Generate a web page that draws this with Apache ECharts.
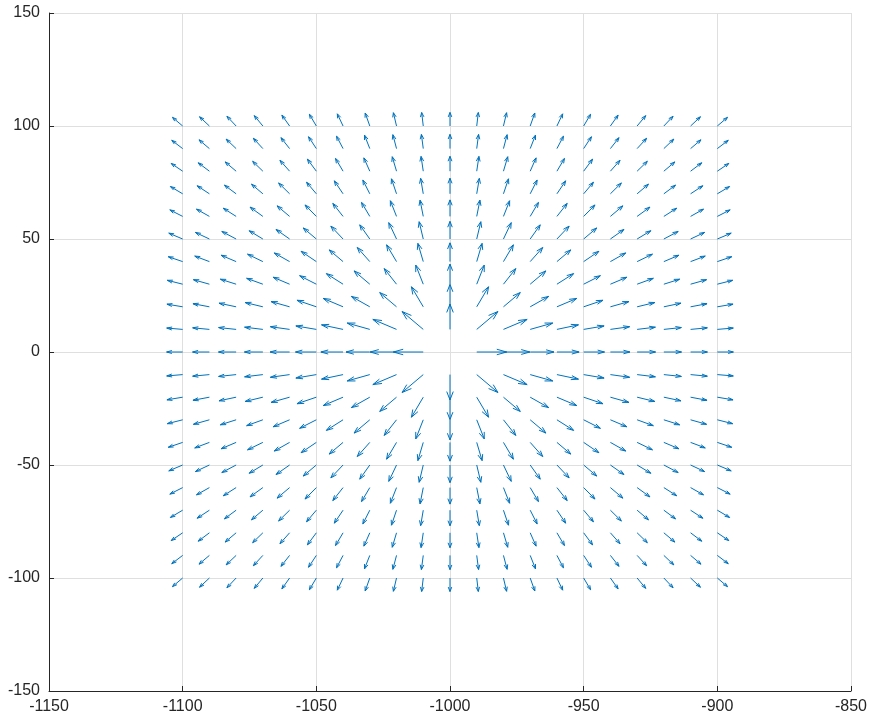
<!DOCTYPE html>
<html>
<head>
<meta charset="utf-8">
<script src="https://cdn.jsdelivr.net/npm/echarts@6/dist/echarts.min.js"></script>
<style>
  html, body { margin: 0; padding: 0; background: #fff; }
  #chart { width: 870px; height: 721px; }
</style>
</head>
<body>
<div id="chart"></div>
<script>
// grid of arrow tails
const xs = [-1100, -1090, -1080, -1070, -1060, -1050, -1040, -1030, -1020, -1010, -1000,
            -990, -980, -970, -960, -950, -940, -930, -920, -910, -900]
const ys = [-100, -90, -80, -70, -60, -50, -40, -30, -20, -10, 0,
            10, 20, 30, 40, 50, 60, 70, 80, 90, 100]
// the arrows all point away from this point (no arrow drawn there)
const source = [-1000, 0]
// arrow length (data units), by distance from source: 10, 20, ... 140
const arrowLen = [11.2, 9.9, 8.9, 8.3, 7.8, 7.3, 6.9, 6.6, 6.3, 6.0, 5.8, 5.6, 5.5, 5.4]

const xTicks = [-1150, -1100, -1050, -1000, -950, -900, -850]
const yTicks = [-150, -100, -50, 0, 50, 100, 150]

// ===== build arrows =====
const arrows = []
ys.forEach(y => {
  xs.forEach(x => {
    const dx = x - source[0]
    const dy = y - source[1]
    const r = Math.sqrt(dx * dx + dy * dy)
    if (r === 0) return
    const k = Math.min(arrowLen.length, Math.max(1, Math.round(r / 10))) - 1
    const len = arrowLen[k]
    arrows.push([x, y, dx / r * len, dy / r * len])
  })
})

const lineColor = '#0072BD'
const axisColor = '#262626'
const gridColor = '#dfdfdf'

function renderArrow(params, api) {
  const x = api.value(0)
  const y = api.value(1)
  const u = api.value(2)
  const v = api.value(3)
  const alpha = 0.33
  const beta = 0.33
  const p0 = api.coord([x, y])
  const p1 = api.coord([x + u, y + v])
  const h1 = api.coord([x + u - alpha * (u + beta * v), y + v - alpha * (v - beta * u)])
  const h2 = api.coord([x + u - alpha * (u - beta * v), y + v - alpha * (v + beta * u)])
  const style = { stroke: lineColor, lineWidth: 1, fill: null }
  return {
    type: 'group',
    children: [
      { type: 'line', shape: { x1: p0[0], y1: p0[1], x2: p1[0], y2: p1[1] }, style },
      { type: 'polyline', shape: { points: [h1, p1, h2] }, style }
    ]
  }
}

const chart = echarts.init(document.getElementById('chart'))

const axisCommon = {
  type: 'value',
  interval: 50,
  axisLine: { show: true, onZero: false, lineStyle: { color: axisColor, width: 1 } },
  axisTick: { show: true, inside: true, length: 5, lineStyle: { color: axisColor } },
  splitLine: { show: true, lineStyle: { color: gridColor, width: 1 } },
  axisLabel: {
    color: axisColor,
    fontFamily: 'Liberation Sans, Arial, sans-serif',
    fontSize: 16,
    showMinLabel: true,
    showMaxLabel: true,
    formatter: v => String(v)
  }
}

chart.setOption({
  animation: false,
  backgroundColor: '#ffffff',
  grid: { left: 49, right: 19, top: 13, bottom: 30, containLabel: false },
  xAxis: Object.assign({}, axisCommon, {
    min: xTicks[0],
    max: xTicks[xTicks.length - 1],
    axisLabel: Object.assign({}, axisCommon.axisLabel, { margin: 8 })
  }),
  yAxis: Object.assign({}, axisCommon, {
    min: yTicks[0],
    max: yTicks[yTicks.length - 1],
    axisLabel: Object.assign({}, axisCommon.axisLabel, { margin: 9 })
  }),
  series: [
    {
      type: 'custom',
      renderItem: renderArrow,
      data: arrows,
      encode: { x: 0, y: 1 },
      silent: true
    }
  ]
})
</script>
</body>
</html>
